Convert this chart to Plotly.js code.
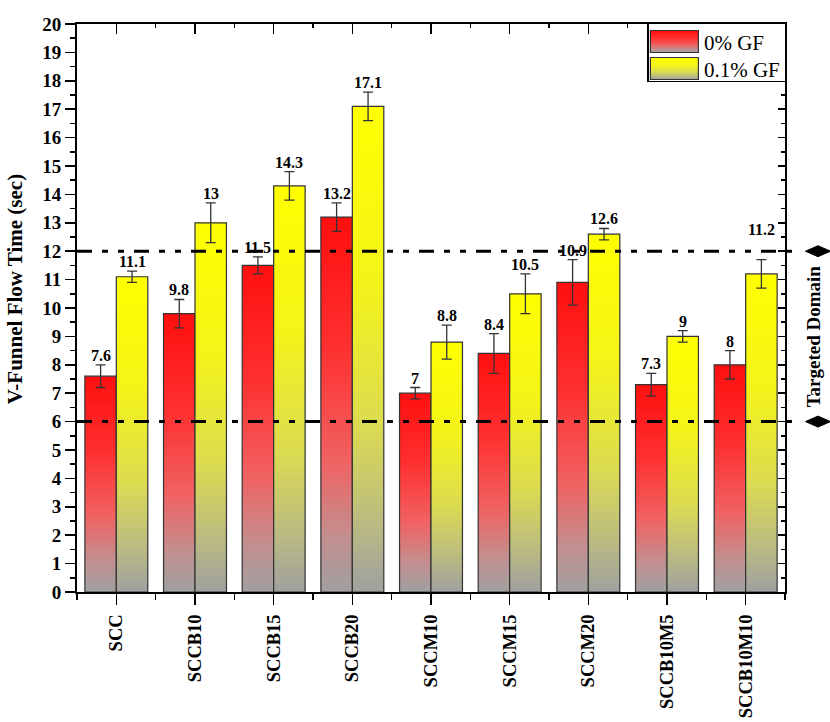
<!DOCTYPE html>
<html>
<head>
<meta charset="utf-8">
<script src="https://cdn.plot.ly/plotly-3.0.1.min.js"></script>
<style>
html,body{margin:0;padding:0;background:#fff;}
#chart{width:830px;height:722px;}
</style>
</head>
<body>
<div id="chart"></div>
<script>
// ---- data ----
const categories = ["SCC","SCCB10","SCCB15","SCCB20","SCCM10","SCCM15","SCCM20","SCCB10M5","SCCB10M10"];
const gf0 = [7.6, 9.8, 11.5, 13.2, 7.0, 8.4, 10.9, 7.3, 8.0];
const gf0Err = [0.4, 0.5, 0.3, 0.5, 0.2, 0.7, 0.8, 0.4, 0.5];
const gf01 = [11.1, 13.0, 14.3, 17.1, 8.8, 10.5, 12.6, 9.0, 11.2];
const gf01Err = [0.2, 0.7, 0.5, 0.5, 0.6, 0.7, 0.2, 0.2, 0.5];
const seriesNames = ["0% GF", "0.1% GF"];
const domainLimits = [6, 12];
const domainLabel = "Targeted Domain";
const yTitle = "V-Funnel Flow Time (sec)";

const FONT = "'Liberation Serif', 'Times New Roman', Times, serif";
const xIdx = categories.map((c, i) => i);

const errStyle = {type: 'data', visible: true, color: '#333333', thickness: 1.3, width: 5};

const traces = [
  {
    type: 'bar', name: seriesNames[0], x: xIdx, y: gf0,
    error_y: Object.assign({array: gf0Err}, errStyle),
    marker: {color: '#ff2020', line: {color: '#333333', width: 1.2}}
  },
  {
    type: 'bar', name: seriesNames[1], x: xIdx, y: gf01,
    error_y: Object.assign({array: gf01Err}, errStyle),
    marker: {color: '#f0f020', line: {color: '#333333', width: 1.2}}
  }
];

// value labels
const annotations = [];
const offs = 0.2;
[[gf0, gf0Err, -offs], [gf01, gf01Err, offs]].forEach(([vals, errs, dx], s) => {
  vals.forEach((v, i) => {
    annotations.push({
      xref: 'x', yref: 'y', x: i + dx, y: v + errs[i],
      text: String(v), showarrow: false, yanchor: 'bottom', xanchor: 'center',
      yshift: (s === 1 && i === 8) ? 20 : -1,
      font: {family: FONT, size: 16, color: '#000', weight: 'bold'}
    });
  });
});
annotations.push({
  xref: 'paper', yref: 'paper', x: -0.0876, y: 0.533, textangle: -90,
  xanchor: 'center', yanchor: 'middle',
  text: '<b>' + yTitle + '</b>', showarrow: false,
  font: {family: FONT, size: 21, color: '#000'}
});
annotations.push({
  xref: 'paper', yref: 'y', x: 1.0395, y: (domainLimits[0] + domainLimits[1]) / 2, textangle: -90,
  xanchor: 'center', yanchor: 'middle',
  text: '<b>' + domainLabel + '</b>', showarrow: false,
  font: {family: FONT, size: 19, color: '#000'}
});

const shapes = [];
domainLimits.forEach(v => {
  shapes.push({
    type: 'line', xref: 'paper', yref: 'y', x0: 0, x1: 1.016, y0: v, y1: v,
    line: {color: '#000', width: 3, dash: '15px,10px,6px,10px,6px,10px'}, layer: 'above'
  });
  shapes.push({
    type: 'path', xref: 'paper', yref: 'y', xsizemode: 'pixel', ysizemode: 'pixel',
    xanchor: 1.0466, yanchor: v,
    path: 'M-12.5,0 L0,5.5 L12.5,0 L0,-5.5 Z',
    fillcolor: '#000', line: {color: '#000', width: 1}, layer: 'above'
  });
});

const layout = {
  width: 830, height: 722,
  margin: {l: 77, r: 45, t: 24, b: 130},
  paper_bgcolor: '#fff', plot_bgcolor: '#fff',
  barmode: 'group', bargap: 0.2, bargroupgap: 0,
  showlegend: true,
  legend: {
    x: 1.002, xanchor: 'right', y: 1.002, yanchor: 'top',
    bgcolor: '#fff', bordercolor: '#000', borderwidth: 1.5,
    font: {family: FONT, size: 21, color: '#000'},
    itemwidth: 45, tracegroupgap: 0
  },
  font: {family: FONT, color: '#000'},
  xaxis: {
    range: [-0.5, 8.5], tickmode: 'array', tickvals: xIdx, ticktext: categories,
    tickangle: -90, showline: true, linecolor: '#000', linewidth: 2,
    ticks: 'outside', ticklen: 11, tickwidth: 1.5, tickcolor: '#000',
    ticklabelstandoff: 2,
    minor: {tick0: 0.5, dtick: 1, ticks: 'outside', ticklen: 6, tickwidth: 1.5, tickcolor: '#000'},
    tickfont: {family: FONT, size: 18.5, color: '#000', weight: 'bold'},
    showgrid: false, zeroline: false, fixedrange: true
  },
  xaxis2: {
    overlaying: 'x', side: 'top', range: [-0.5, 8.5], tickmode: 'linear', tick0: 0, dtick: 1,
    showline: true, linecolor: '#000', linewidth: 2, showticklabels: false,
    ticks: 'inside', ticklen: 10, tickwidth: 1.5, tickcolor: '#000',
    minor: {tick0: 0.5, dtick: 1, ticks: 'inside', ticklen: 4, tickwidth: 1.5, tickcolor: '#000'},
    showgrid: false, zeroline: false
  },
  yaxis: {
    range: [0, 20], tickmode: 'linear', tick0: 0, dtick: 1,
    showline: true, linecolor: '#000', linewidth: 2,
    ticks: 'outside', ticklen: 10, tickwidth: 1.5, tickcolor: '#000',
    minor: {dtick: 0.5, ticks: 'outside', ticklen: 5, tickwidth: 1.5, tickcolor: '#000'},
    tickfont: {family: FONT, size: 19, color: '#000', weight: 'bold'},
    showgrid: false, zeroline: false, fixedrange: true
  },
  yaxis2: {
    overlaying: 'y', side: 'right', range: [0, 20], tickmode: 'linear', tick0: 0, dtick: 1,
    showline: true, linecolor: '#000', linewidth: 2, showticklabels: false,
    ticks: 'inside', ticklen: 7, tickwidth: 1.5, tickcolor: '#000',
    minor: {dtick: 0.5, ticks: 'inside', ticklen: 4, tickwidth: 1.5, tickcolor: '#000'},
    showgrid: false, zeroline: false
  },
  annotations: annotations,
  shapes: shapes
};

// invisible helper trace so the mirrored axes are drawn
traces.push({type: 'scatter', x: [0], y: [0], xaxis: 'x2', yaxis: 'y2', mode: 'markers',
  marker: {opacity: 0}, showlegend: false, hoverinfo: 'skip'});

const gd = document.getElementById('chart');
Plotly.newPlot(gd, traces, layout, {displayModeBar: false, staticPlot: true}).then(() => {
  const NS = 'http://www.w3.org/2000/svg';
  const svg = gd.querySelector('svg.main-svg');
  let defs = svg.querySelector('defs');
  if (!defs) { defs = document.createElementNS(NS, 'defs'); svg.insertBefore(defs, svg.firstChild); }
  function mkGrad(id, stops) {
    const g = document.createElementNS(NS, 'linearGradient');
    g.setAttribute('id', id);
    g.setAttribute('x1', '0'); g.setAttribute('y1', '0');
    g.setAttribute('x2', '0'); g.setAttribute('y2', '1');
    stops.forEach(([o, c]) => {
      const s = document.createElementNS(NS, 'stop');
      s.setAttribute('offset', o); s.setAttribute('stop-color', c);
      g.appendChild(s);
    });
    defs.appendChild(g);
  }
  mkGrad('gradRed', [[0, '#ff0f0f'], [0.35, '#ff3030'], [0.65, '#f06262'], [0.85, '#c48e8e'], [1, '#a0a0a0']]);
  mkGrad('gradYel', [[0, '#ffff00'], [0.35, '#f4f418'], [0.65, '#dcdc50'], [0.85, '#bcbc80'], [1, '#a0a0a0']]);
  const ids = ['gradRed', 'gradYel'];
  gd.querySelectorAll('.barlayer .trace').forEach((t, k) => {
    t.querySelectorAll('.point path').forEach(p => { p.style.fill = 'url(#' + ids[k] + ')'; });
  });
  const legTraces = gd.querySelectorAll('.legend .traces');
  legTraces.forEach((t, k) => {
    t.querySelectorAll('.legendpoints path').forEach(p => {
      p.setAttribute('d', 'M-26,-11H22V11H-26Z');
      p.style.fill = 'url(#' + ids[k] + ')';
      p.style.stroke = '#333';
      p.style.strokeWidth = '1.2px';
    });
  });
  // tighten legend rows and box
  if (legTraces.length === 2) {
    const parse = el => {
      const m = /translate\(\s*([-\d.]+)[ ,]+([-\d.]+)\s*\)/.exec(el.getAttribute('transform') || '');
      return m ? [parseFloat(m[1]), parseFloat(m[2])] : null;
    };
    const a = parse(legTraces[0]), b = parse(legTraces[1]);
    if (a && b) {
      const pitch = 27, up = 3;
      legTraces[0].setAttribute('transform', 'translate(' + a[0] + ',' + (a[1] - up) + ')');
      legTraces[1].setAttribute('transform', 'translate(' + b[0] + ',' + (a[1] - up + pitch) + ')');
      const bg = gd.querySelector('.legend rect.bg');
      if (bg) bg.setAttribute('height', 58);
    }
  }
});
</script>
</body>
</html>
